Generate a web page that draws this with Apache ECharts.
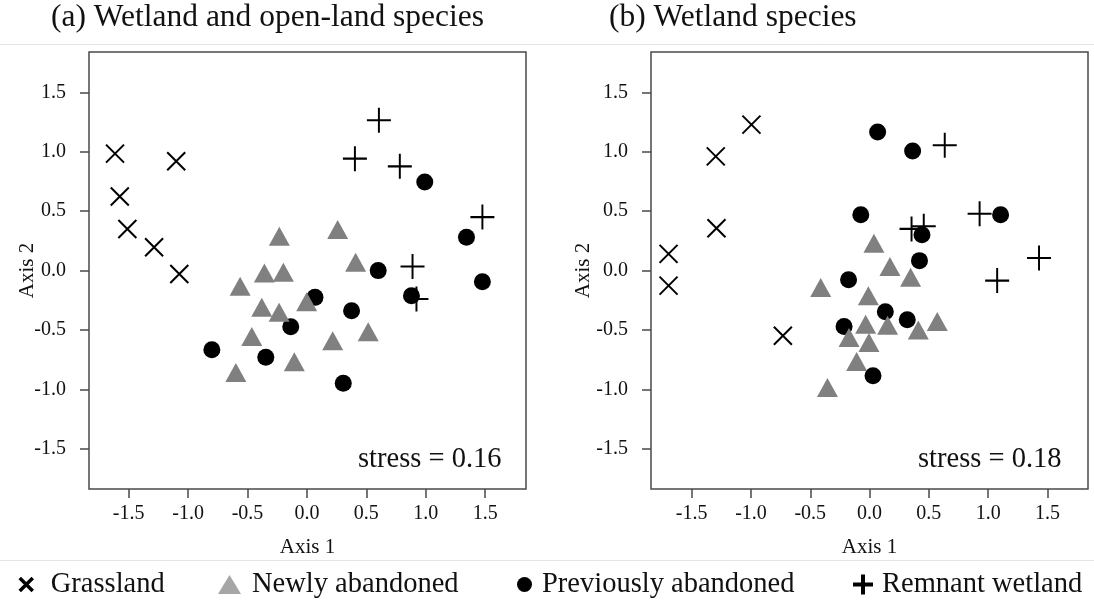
<!DOCTYPE html>
<html>
<head>
<meta charset="utf-8">
<script src="https://cdn.jsdelivr.net/npm/echarts@6/dist/echarts.min.js"></script>
<style>
html,body{margin:0;padding:0;background:#fff;}
#chart{width:1094px;height:606px;}
</style>
</head>
<body>
<div id="chart"></div>
<script>
// ---- data ----
const seriesNames = ['Grassland', 'Newly abandoned', 'Previously abandoned', 'Remnant wetland'];
const panelTitles = ['(a) Wetland and open-land species', '(b) Wetland species'];
const stressLabels = ['stress = 0.16', 'stress = 0.18'];
const tickValues = [-1.5, -1.0, -0.5, 0.0, 0.5, 1.0, 1.5];
const axisTitles = ['Axis 1', 'Axis 2'];

// panel (a)
const grasslandA = [[-1.615,0.984],[-1.100,0.920],[-1.575,0.624],[-1.511,0.350],[-1.286,0.197],[-1.074,-0.028]];
const remnantA = [[0.606,1.265],[0.404,0.942],[0.782,0.877],[1.477,0.450],[0.889,0.034],[0.922,-0.239]];
const previousA = [[0.992,0.745],[1.343,0.281],[0.600,0.000],[1.477,-0.093],[0.880,-0.211],[0.068,-0.225],[0.376,-0.337],[-0.136,-0.472],[-0.800,-0.666],[-0.346,-0.728],[0.306,-0.947]];
const newlyA = [[-0.232,0.289],[0.259,0.346],[-0.358,-0.020],[-0.198,-0.014],[0.410,0.070],[-0.562,-0.132],[-0.380,-0.309],[-0.234,-0.351],[-0.002,-0.261],[-0.464,-0.554],[0.217,-0.590],[0.516,-0.514],[-0.106,-0.767],[-0.598,-0.857]];

// panel (b)
const grasslandB = [[-0.996,1.228],[-1.297,0.961],[-1.291,0.357],[-1.695,0.141],[-1.695,-0.126],[-0.731,-0.548]];
const remnantB = [[0.634,1.054],[0.928,0.478],[0.354,0.351],[0.457,0.374],[1.429,0.107],[1.076,-0.084]];
const previousB = [[0.068,1.166],[0.363,1.006],[-0.074,0.469],[1.105,0.469],[0.442,0.301],[0.421,0.084],[-0.177,-0.076],[0.133,-0.346],[0.318,-0.413],[-0.215,-0.470],[0.029,-0.885]];
const newlyB = [[0.037,0.230],[0.172,0.034],[0.346,-0.056],[-0.412,-0.141],[-0.010,-0.211],[-0.033,-0.452],[0.152,-0.460],[-0.173,-0.562],[-0.005,-0.604],[0.411,-0.500],[0.571,-0.427],[-0.109,-0.765],[-0.355,-0.984]];

// ---- styling ----
const FONT = "'Liberation Serif','Times New Roman',serif";
const crossPath = 'path://M0,0L10,10M10,0L0,10';
const plusPath = 'path://M5,0L5,10M0,5L10,5';
const frameColor = '#4a4a4a';
const textColor = '#111';

function fmt(v){ return (Math.abs(v) < 1e-9 ? 0 : v).toFixed(1); }

function makeXAxis(gi, min, max){
  return {
    type:'value', gridIndex:gi, min:min, max:max, position:'bottom',
    axisLine:{show:false, onZero:false},
    splitLine:{show:false},
    axisTick:{show:true, inside:false, length:9, lineStyle:{color:frameColor, width:1.5}, customValues:tickValues},
    axisLabel:{show:true, margin:15, fontFamily:FONT, fontSize:20, color:textColor, customValues:tickValues, formatter:fmt},
    name:axisTitles[0], nameLocation:'middle', nameGap:48, nameMoveOverlap:false,
    nameTextStyle:{fontFamily:FONT, fontSize:21, color:textColor}
  };
}
function makeYAxis(gi, min, max, gap){
  return {
    type:'value', gridIndex:gi, min:min, max:max, position:'left',
    axisLine:{show:false, onZero:false},
    splitLine:{show:false},
    axisTick:{show:true, inside:false, length:9, lineStyle:{color:frameColor, width:1.5}, customValues:tickValues},
    axisLabel:{show:true, margin:23, fontFamily:FONT, fontSize:20, color:textColor, customValues:tickValues, formatter:fmt},
    name:axisTitles[1], nameLocation:'middle', nameGap:gap, nameRotate:90, nameMoveOverlap:false,
    nameTextStyle:{fontFamily:FONT, fontSize:21, color:textColor}
  };
}

function sGrass(data, gi){
  return {name:seriesNames[0], type:'scatter', xAxisIndex:gi, yAxisIndex:gi, data:data,
    symbol:crossPath, symbolSize:[18,18], silent:true,
    itemStyle:{color:'rgba(0,0,0,0)', borderColor:'#000', borderWidth:2, opacity:1}};
}
function sRemnant(data, gi){
  return {name:seriesNames[3], type:'scatter', xAxisIndex:gi, yAxisIndex:gi, data:data,
    symbol:plusPath, symbolSize:[24,25], silent:true,
    itemStyle:{color:'rgba(0,0,0,0)', borderColor:'#000', borderWidth:2, opacity:1}};
}
function sPrev(data, gi){
  return {name:seriesNames[2], type:'scatter', xAxisIndex:gi, yAxisIndex:gi, data:data,
    symbol:'circle', symbolSize:17, silent:true,
    itemStyle:{color:'#000', opacity:1}};
}
function sNewly(data, gi){
  return {name:seriesNames[1], type:'scatter', xAxisIndex:gi, yAxisIndex:gi, data:data,
    symbol:'triangle', symbolSize:[21,19], silent:true,
    itemStyle:{color:'#808080', opacity:1}};
}

function legendAt(left, item, pad){
  return {
    left:left, top:570, padding:0, selectedMode:false, orient:'horizontal',
    itemWidth:item.w, itemHeight:item.h,
    textStyle:{fontFamily:FONT, fontSize:28.5, color:textColor, lineHeight:26, padding:[0,0,0,pad]},
    data:[{name:item.name, icon:item.icon, itemStyle:item.style}]
  };
}

const chart = echarts.init(document.getElementById('chart'), null, {renderer:'canvas'});
const option = {
  animation:false,
  backgroundColor:'#fff',
  title:[
    {text:panelTitles[0], left:51, top:2, padding:0, textStyle:{fontFamily:FONT, fontSize:31.5, fontWeight:'normal', color:textColor, lineHeight:31}},
    {text:panelTitles[1], left:609, top:2, padding:0, textStyle:{fontFamily:FONT, fontSize:31.5, fontWeight:'normal', color:textColor, lineHeight:31}},
    {text:stressLabels[0], left:358, top:446, padding:0, textStyle:{fontFamily:FONT, fontSize:28.5, fontWeight:'normal', color:textColor, lineHeight:28}},
    {text:stressLabels[1], left:918, top:446, padding:0, textStyle:{fontFamily:FONT, fontSize:28.5, fontWeight:'normal', color:textColor, lineHeight:28}}
  ],
  grid:[
    {left:89, top:52, width:437, height:437, show:true, borderColor:frameColor, borderWidth:1.5, backgroundColor:'transparent', containLabel:false},
    {left:651, top:52, width:437, height:437, show:true, borderColor:frameColor, borderWidth:1.5, backgroundColor:'transparent', containLabel:false}
  ],
  xAxis:[ makeXAxis(0, -1.834, 1.844), makeXAxis(1, -1.843, 1.842) ],
  yAxis:[ makeYAxis(0, -1.837, 1.839, 51), makeYAxis(1, -1.837, 1.839, 57) ],
  legend:[
    legendAt(18, {name:seriesNames[0], icon:crossPath, w:15, h:13, style:{color:'rgba(0,0,0,0)', borderColor:'#000', borderWidth:3.5}}, 12),
    legendAt(218, {name:seriesNames[1], icon:'triangle', w:23, h:19, style:{color:'#a6a6a6', borderWidth:0}}, 6),
    legendAt(517, {name:seriesNames[2], icon:'circle', w:15, h:16, style:{color:'#000', borderWidth:0}}, 5),
    legendAt(851, {name:seriesNames[3], icon:plusPath, w:22, h:20, style:{color:'rgba(0,0,0,0)', borderColor:'#000', borderWidth:4}}, 3)
  ],
  graphic:[
    {type:'line', silent:true, shape:{x1:0, y1:44.5, x2:1094, y2:44.5}, style:{stroke:'#e4e4e4', lineWidth:1}},
    {type:'line', silent:true, shape:{x1:0, y1:560.5, x2:1094, y2:560.5}, style:{stroke:'#e4e4e4', lineWidth:1}}
  ],
  series:[
    sGrass(grasslandA,0), sRemnant(remnantA,0), sPrev(previousA,0), sNewly(newlyA,0),
    sGrass(grasslandB,1), sRemnant(remnantB,1), sPrev(previousB,1), sNewly(newlyB,1)
  ]
};
chart.setOption(option);
</script>
</body>
</html>
